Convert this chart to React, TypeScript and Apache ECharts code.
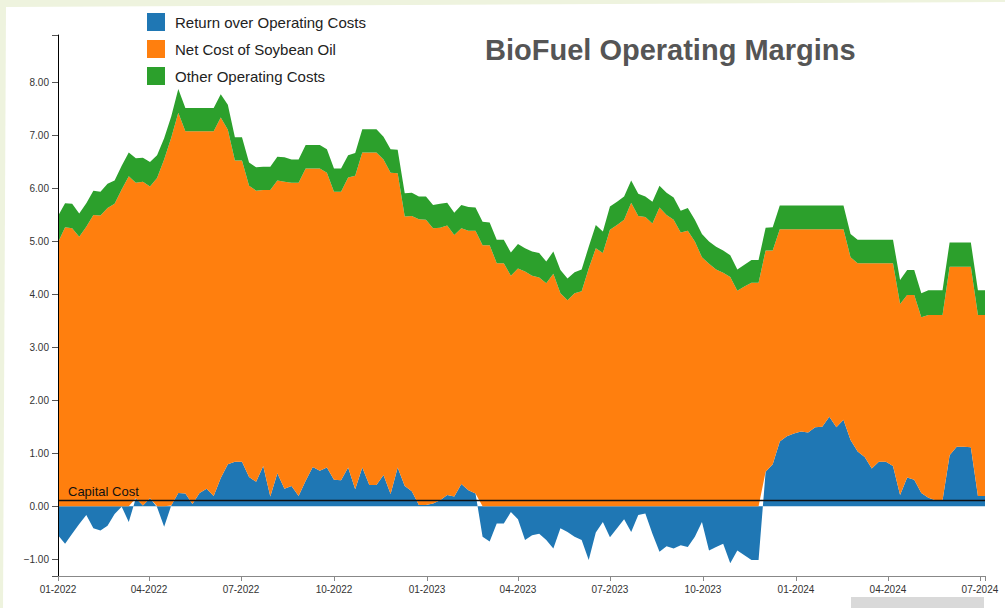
import React, { useEffect, useRef } from "react";
import * as echarts from "echarts";

// Weekly observation dates
const dates: string[] = [
  "2022-01-01","2022-01-08","2022-01-15","2022-01-22","2022-01-29",
  "2022-02-05","2022-02-12","2022-02-19","2022-02-26",
  "2022-03-05","2022-03-12","2022-03-19","2022-03-26",
  "2022-04-02","2022-04-09","2022-04-16","2022-04-23","2022-04-30",
  "2022-05-07","2022-05-14","2022-05-21","2022-05-28",
  "2022-06-04","2022-06-11","2022-06-18","2022-06-25",
  "2022-07-02","2022-07-09","2022-07-16","2022-07-23","2022-07-30",
  "2022-08-06","2022-08-13","2022-08-20","2022-08-27",
  "2022-09-03","2022-09-10","2022-09-17","2022-09-24",
  "2022-10-01","2022-10-08","2022-10-15","2022-10-22","2022-10-29",
  "2022-11-05","2022-11-12","2022-11-19","2022-11-26",
  "2022-12-03","2022-12-10","2022-12-17","2022-12-24","2022-12-31",
  "2023-01-07","2023-01-14","2023-01-21","2023-01-28",
  "2023-02-04","2023-02-11","2023-02-18","2023-02-25",
  "2023-03-04","2023-03-11","2023-03-18","2023-03-25",
  "2023-04-01","2023-04-08","2023-04-15","2023-04-22","2023-04-29",
  "2023-05-06","2023-05-13","2023-05-20","2023-05-27",
  "2023-06-03","2023-06-10","2023-06-17","2023-06-24",
  "2023-07-01","2023-07-08","2023-07-15","2023-07-22","2023-07-29",
  "2023-08-05","2023-08-12","2023-08-19","2023-08-26",
  "2023-09-02","2023-09-09","2023-09-16","2023-09-23","2023-09-30",
  "2023-10-07","2023-10-14","2023-10-21","2023-10-28",
  "2023-11-04","2023-11-11","2023-11-18","2023-11-25",
  "2023-12-02","2023-12-09","2023-12-16","2023-12-23","2023-12-30",
  "2024-01-06","2024-01-13","2024-01-20","2024-01-27",
  "2024-02-03","2024-02-10","2024-02-17","2024-02-24",
  "2024-03-02","2024-03-09","2024-03-16","2024-03-23","2024-03-30",
  "2024-04-06","2024-04-13","2024-04-20","2024-04-27",
  "2024-05-04","2024-05-11","2024-05-18","2024-05-25",
  "2024-06-01","2024-06-08","2024-06-15","2024-06-22","2024-06-29",
  "2024-07-06",
];

const returnOverOperatingCosts: number[] = [
  -0.55, -0.71, -0.52, -0.34, -0.17, -0.42, -0.46, -0.37, -0.15, -0.01,
  -0.30, 0.15, 0.01, 0.15, -0.02, -0.39, 0.01, 0.25, 0.24, 0.04,
  0.25, 0.33, 0.19, 0.53, 0.79, 0.84, 0.84, 0.55, 0.46, 0.76,
  0.18, 0.62, 0.33, 0.38, 0.19, 0.48, 0.74, 0.67, 0.73, 0.50,
  0.49, 0.73, 0.32, 0.73, 0.40, 0.40, 0.59, 0.23, 0.73, 0.38,
  0.28, 0.02, 0.02, 0.05, 0.11, 0.21, 0.18, 0.42, 0.30, 0.24,
  -0.58, -0.67, -0.33, -0.33, -0.11, -0.25, -0.64, -0.55, -0.52, -0.64,
  -0.80, -0.42, -0.49, -0.58, -0.64, -1.02, -0.50, -0.30, -0.59, -0.42,
  -0.25, -0.49, -0.17, -0.14, -0.52, -0.86, -0.76, -0.80, -0.74, -0.77,
  -0.58, -0.30, -0.84, -0.77, -0.71, -1.08, -0.84, -0.93, -1.02, -1.02,
  0.65, 0.79, 1.22, 1.32, 1.37, 1.41, 1.39, 1.49, 1.50, 1.69,
  1.49, 1.63, 1.25, 1.03, 0.93, 0.71, 0.84, 0.84, 0.76, 0.21,
  0.54, 0.50, 0.25, 0.16, 0.11, 0.11, 0.96, 1.12, 1.12, 1.11,
  0.19, 0.19,
];

const netCostOfSoybeanOil: number[] = [
  4.98, 5.27, 5.25, 5.09, 5.28, 5.50, 5.49, 5.63, 5.71, 5.98,
  6.23, 5.96, 6.12, 5.89, 6.20, 6.55, 6.95, 7.18, 6.84, 7.04,
  6.83, 6.75, 6.89, 6.81, 6.32, 5.69, 5.69, 5.50, 5.50, 5.21,
  5.79, 5.53, 5.80, 5.73, 5.92, 5.90, 5.64, 5.71, 5.57, 5.44,
  5.45, 5.48, 5.92, 5.95, 6.28, 6.28, 5.96, 6.07, 5.56, 5.09,
  5.20, 5.40, 5.39, 5.20, 5.15, 5.09, 4.94, 4.83, 4.90, 4.96,
  4.93, 4.93, 4.59, 4.59, 4.35, 4.49, 4.43, 4.35, 4.32, 4.21,
  4.39, 4.02, 3.89, 4.02, 4.06, 4.49, 4.87, 4.78, 5.22, 5.31,
  5.41, 5.73, 5.48, 5.46, 5.34, 5.64, 5.50, 5.41, 5.17, 5.20,
  5.00, 4.70, 4.58, 4.47, 4.41, 4.33, 4.07, 4.15, 4.22, 4.22,
  4.18, 4.04, 4.01, 3.91, 3.86, 3.82, 3.84, 3.74, 3.73, 3.54,
  3.74, 3.60, 3.45, 3.56, 3.66, 3.88, 3.75, 3.75, 3.83, 3.61,
  3.45, 3.49, 3.32, 3.45, 3.50, 3.50, 3.56, 3.40, 3.40, 3.41,
  3.42, 3.42,
];

const otherOperatingCosts: number[] = [
  0.50, 0.45, 0.46, 0.44, 0.44, 0.46, 0.45, 0.46, 0.44, 0.45,
  0.45, 0.46, 0.45, 0.46, 0.43, 0.40, 0.40, 0.45, 0.44, 0.44,
  0.44, 0.44, 0.44, 0.44, 0.47, 0.44, 0.44, 0.44, 0.44, 0.44,
  0.44, 0.45, 0.46, 0.44, 0.44, 0.44, 0.44, 0.44, 0.44, 0.44,
  0.44, 0.42, 0.43, 0.44, 0.44, 0.44, 0.43, 0.44, 0.44, 0.44,
  0.44, 0.43, 0.44, 0.44, 0.45, 0.43, 0.42, 0.44, 0.45, 0.44,
  0.44, 0.43, 0.44, 0.44, 0.44, 0.46, 0.44, 0.46, 0.46, 0.41,
  0.42, 0.44, 0.41, 0.40, 0.41, 0.41, 0.44, 0.41, 0.44, 0.44,
  0.44, 0.42, 0.42, 0.39, 0.41, 0.41, 0.42, 0.42, 0.41, 0.43,
  0.41, 0.44, 0.42, 0.43, 0.42, 0.41, 0.40, 0.41, 0.43, 0.43,
  0.43, 0.44, 0.45, 0.45, 0.45, 0.45, 0.45, 0.45, 0.45, 0.45,
  0.45, 0.45, 0.44, 0.44, 0.44, 0.44, 0.44, 0.44, 0.44, 0.45,
  0.47, 0.47, 0.45, 0.47, 0.47, 0.47, 0.46, 0.46, 0.46, 0.46,
  0.47, 0.47,
];

const seriesNames = [
  "Return over Operating Costs",
  "Net Cost of Soybean Oil",
  "Other Operating Costs",
];
const seriesColors = ["#1f77b4", "#ff7f0e", "#2ca02c"];

const xTickDates: string[] = [
  "2022-01-01", "2022-04-01", "2022-07-01", "2022-10-01",
  "2023-01-01", "2023-04-01", "2023-07-01", "2023-10-01",
  "2024-01-01", "2024-04-01", "2024-07-01",
];
const yTickValues: number[] = [-1, 0, 1, 2, 3, 4, 5, 6, 7, 8];
const capitalCost = 0.11;
const yMin = -1.32;
const yMax = 8.9;

const FONT = "'Liberation Sans', Arial, sans-serif";

function ts(s: string): number {
  const [y, m, d] = s.split("-").map(Number);
  return Date.UTC(y, m - 1, d);
}

export default function App() {
  const ref = useRef<HTMLDivElement>(null);

  useEffect(() => {
    if (!ref.current) return;
    const chart = echarts.init(ref.current, undefined, { renderer: "svg" });
    const xMin = ts(dates[0]);
    const xMax = ts(dates[dates.length - 1]);
    const xTicks = xTickDates.map(ts);
    const arrays = [returnOverOperatingCosts, netCostOfSoybeanOil, otherOperatingCosts];

    const series: any[] = arrays.map((arr, k) => ({
      name: seriesNames[k],
      type: "line",
      xAxisIndex: 0,
      stack: "total",
      stackStrategy: "samesign",
      data: dates.map((d, i) => [ts(d), arr[i]]),
      showSymbol: false,
      symbol: "none",
      color: seriesColors[k],
      itemStyle: { color: seriesColors[k] },
      lineStyle: { width: 0, color: seriesColors[k] },
      areaStyle: { color: seriesColors[k], opacity: 1 },
      z: 2 + k,
    }));
    series[2].markLine = {
      silent: true,
      symbol: "none",
      z: 10,
      lineStyle: { color: "#111", width: 1.3, type: "solid" },
      label: {
        show: true,
        position: "insideStartTop",
        formatter: "Capital Cost",
        color: "#111",
        fontSize: 13,
        fontFamily: FONT,
        distance: [10, 2],
      },
      data: [{ yAxis: capitalCost }],
    };

    chart.setOption({
      animation: false,
      backgroundColor: "#eef3de",
      title: {
        text: "BioFuel Operating Margins",
        left: 485,
        top: 35,
        padding: 0,
        textStyle: { fontSize: 29, fontWeight: "bold", color: "#555", fontFamily: FONT },
      },
      legend: {
        orient: "vertical",
        left: 147,
        top: 13,
        padding: 0,
        itemWidth: 18,
        itemHeight: 18,
        itemGap: 9,
        icon: "rect",
        data: seriesNames,
        textStyle: { fontSize: 15, color: "#222", fontFamily: FONT, padding: [0, 0, 0, 5] },
      },
      graphic: [
        {
          type: "polygon",
          z: -10,
          silent: true,
          shape: { points: [[6, 7], [1010, 2], [1010, 612], [3, 612]] },
          style: { fill: "#ffffff" },
        },
        {
          type: "rect",
          z: 10,
          silent: true,
          shape: { x: 851, y: 597, width: 133, height: 12 },
          style: { fill: "#d9d9d9" },
        },
      ],
      grid: { left: 58, right: 20, top: 35, bottom: 32, containLabel: false },
      xAxis: [
        {
          type: "time",
          min: xMin,
          max: xMax,
          position: "bottom",
          show: false,
        },
        {
          type: "value",
          min: xMin,
          max: xMax,
          position: "bottom",
          z: 10,
          axisLine: { onZero: false, lineStyle: { color: "#888", width: 1 } },
          axisTick: {
            show: true,
            length: 5,
            customValues: [xMin, ...xTicks, xMax],
            lineStyle: { color: "#888" },
          },
          axisLabel: {
            customValues: xTicks,
            fontSize: 10,
            color: "#333",
            fontFamily: FONT,
            margin: 8,
            formatter: (v: number) => {
              const d = new Date(v);
              return String(d.getUTCMonth() + 1).padStart(2, "0") + "-" + d.getUTCFullYear();
            },
          },
          splitLine: { show: false },
        },
      ],
      yAxis: {
        type: "value",
        min: yMin,
        max: yMax,
        z: 10,
        axisLine: { show: true, onZero: false, lineStyle: { color: "#000", width: 1 } },
        axisTick: {
          show: true,
          length: 6,
          customValues: [yMin, ...yTickValues, yMax],
          lineStyle: { color: "#555" },
        },
        axisLabel: {
          customValues: yTickValues,
          fontSize: 10,
          color: "#333",
          fontFamily: FONT,
          margin: 9,
          formatter: (v: number) => (v < 0 ? "\u2212" + Math.abs(v).toFixed(2) : v.toFixed(2)),
        },
        splitLine: { show: false },
      },
      series,
    });

    return () => chart.dispose();
  }, []);

  return (
    <div
      ref={ref}
      style={{ position: "absolute", left: 0, top: 0, width: 1005, height: 608 }}
    />
  );
}
